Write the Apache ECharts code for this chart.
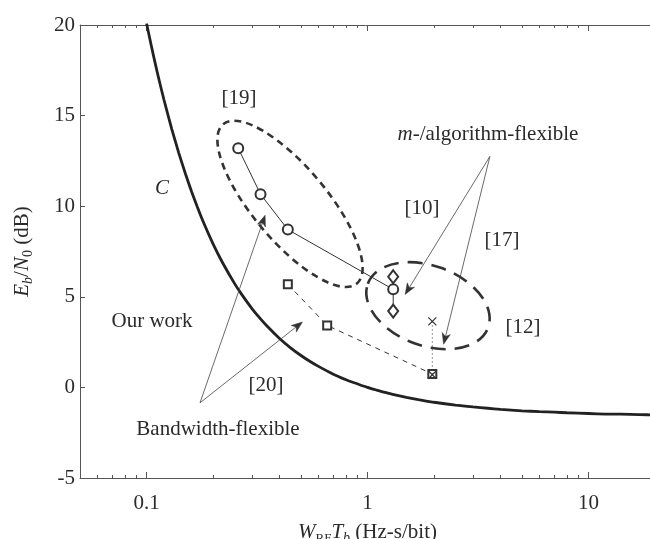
<!DOCTYPE html>
<html>
<head>
<meta charset="utf-8">
<script src="https://cdn.jsdelivr.net/npm/echarts@6/dist/echarts.min.js"></script>
<style>html,body{margin:0;padding:0;background:#fff;}#c{width:650px;height:539px;}</style>
</head>
<body>
<div id="c"></div>
<script>
// ---- data ----
const curveW    = [0.1, 0.105, 0.11, 0.115, 0.12, 0.13, 0.14, 0.15, 0.16, 0.17, 0.18, 0.2, 0.22, 0.25, 0.27, 0.3, 0.32, 0.35, 0.4, 0.45, 0.5, 0.55, 0.6, 0.7, 0.8, 0.85, 1, 1.1, 1.2, 1.3, 1.5, 1.7, 2, 2.5, 3, 3.5, 4, 5, 6, 7, 8, 10, 12, 14, 17, 20];
const curveEbN0 = [20.10, 18.88, 17.77, 16.77, 15.86, 14.27, 12.93, 11.79, 10.80, 9.94, 9.18, 7.92, 6.92, 5.74, 5.12, 4.35, 3.93, 3.40, 2.70, 2.17, 1.76, 1.43, 1.16, 0.73, 0.42, 0.30, 0.00, -0.15, -0.28, -0.38, -0.55, -0.68, -0.82, -0.98, -1.08, -1.15, -1.21, -1.29, -1.34, -1.37, -1.40, -1.44, -1.47, -1.48, -1.50, -1.52];

const ref19W = [0.26, 0.328, 0.436, 1.307];
const ref19E = [13.2, 10.66, 8.71, 5.41];
const ref10W = [1.307, 1.307];
const ref10E = [6.11, 4.21];
const ref20W = [0.436, 0.657, 1.965];
const ref20E = [5.69, 3.42, 0.74];
const ref17W = [1.965, 1.965];
const ref17E = [3.64, 0.70];

const xTickLabels = ['0.1', '1', '10'];
const yTickLabels = ['-5', '0', '5', '10', '15', '20'];
const xMinorTicks = [0.06, 0.07, 0.08, 0.09, 0.2, 0.3, 0.4, 0.5, 0.6, 0.7, 0.8, 0.9, 2, 3, 4, 5, 6, 7, 8, 9, 20];

// annotation anchors (data coordinates)
const ellipseCenterW = [0.446, 1.878];
const ellipseCenterE = [10.13, 4.51];
const arrowFromW = [3.58, 3.58, 0.1746, 0.1746];
const arrowFromE = [12.75, 12.75, -0.85, -0.85];
const arrowToW   = [1.48, 2.21, 0.344, 0.5075];
const arrowToE   = [5.13, 2.38, 9.5, 3.61];

// ---- styling ----
const FONT = 'Liberation Serif';
const TXT = '#2a2a2a';
const AX = '#555';
const zip = (a, b) => a.map((v, i) => [v, b[i]]);
const ellipseStyle = [
  {rx: 104, ry: 37, rot: 50, dash: [7, 5]},
  {rx: 64, ry: 40, rot: 20, dash: [15, 9]}
];

const chart = echarts.init(document.getElementById('c'), null, {renderer: 'canvas'});

const baseX = {type: 'log', logBase: 10, min: 0.05, max: 20, gridIndex: 0, splitLine: {show: false}};
const baseY = {type: 'value', min: -5, max: 20, interval: 5, gridIndex: 0, splitLine: {show: false}};
const richName = {
  i: {fontStyle: 'italic', fontFamily: FONT, fontSize: 21, color: TXT, lineHeight: 26, verticalAlign: 'middle'},
  n: {fontFamily: FONT, fontSize: 21, color: TXT, lineHeight: 26, verticalAlign: 'middle'},
  s: {fontFamily: FONT, fontSize: 13, color: TXT, lineHeight: 14, verticalAlign: 'bottom'},
  si: {fontFamily: FONT, fontStyle: 'italic', fontSize: 14, color: TXT, lineHeight: 14, verticalAlign: 'bottom'}
};

const option = {
  animation: false,
  backgroundColor: '#fff',
  grid: {left: 80, top: 25, width: 575, height: 453, containLabel: false, outerBoundsMode: 'none'},
  xAxis: [
    Object.assign({}, baseX, {
      position: 'bottom',
      axisLine: {show: true, onZero: false, lineStyle: {color: AX, width: 1}},
      axisTick: {show: true, inside: true, length: 6, lineStyle: {color: AX, width: 1}},
      axisLabel: {show: true, color: TXT, fontFamily: FONT, fontSize: 21, margin: 15,
        formatter: v => { const s = String(+Number(v).toPrecision(3)); return xTickLabels.indexOf(s) >= 0 ? s : ''; }},
      name: '{i|W}{s|RF}{i|T}{si|b}{n| (Hz-s/bit)}',
      nameLocation: 'middle', nameGap: 41,
      nameTextStyle: {color: TXT, fontFamily: FONT, fontSize: 21, rich: richName}
    }),
    Object.assign({}, baseX, {
      position: 'bottom',
      axisLine: {show: false, onZero: false},
      axisTick: {show: true, inside: true, length: 3, customValues: xMinorTicks, lineStyle: {color: AX, width: 1}},
      axisLabel: {show: false}
    }),
    Object.assign({}, baseX, {
      position: 'top',
      axisLine: {show: true, onZero: false, lineStyle: {color: AX, width: 1}},
      axisTick: {show: true, inside: true, length: 6, lineStyle: {color: AX, width: 1}},
      axisLabel: {show: false}
    }),
    Object.assign({}, baseX, {
      position: 'top',
      axisLine: {show: false, onZero: false},
      axisTick: {show: true, inside: true, length: 3, customValues: xMinorTicks, lineStyle: {color: AX, width: 1}},
      axisLabel: {show: false}
    })
  ],
  yAxis: [
    Object.assign({}, baseY, {
      position: 'left',
      axisLine: {show: true, onZero: false, lineStyle: {color: AX, width: 1}},
      axisTick: {show: true, inside: true, length: 5, lineStyle: {color: AX, width: 1}},
      axisLabel: {show: true, color: TXT, fontFamily: FONT, fontSize: 21, margin: 5,
        formatter: v => yTickLabels[Math.round((v + 5) / 5)]},
      name: '{i|E}{si|b}{n|/}{i|N}{s|0}{n| (dB)}',
      nameLocation: 'middle', nameGap: 45, nameRotate: 90,
      nameTextStyle: {color: TXT, fontFamily: FONT, fontSize: 21,
        rich: Object.assign({}, richName, {s: {fontFamily: FONT, fontSize: 14, color: TXT, lineHeight: 14, verticalAlign: 'bottom'}})}
    }),
    Object.assign({}, baseY, {
      position: 'right',
      axisLine: {show: true, onZero: false, lineStyle: {color: AX, width: 1}},
      axisTick: {show: true, inside: true, length: 5, lineStyle: {color: AX, width: 1}},
      axisLabel: {show: false}
    })
  ],
  series: [
    {
      name: 'C', type: 'line', xAxisIndex: 0, yAxisIndex: 0,
      data: zip(curveW, curveEbN0), showSymbol: false, smooth: 0.2,
      lineStyle: {color: '#222', width: 2.8}, clip: true, z: 3
    },
    {
      name: 'ellipses', type: 'custom', xAxisIndex: 0, yAxisIndex: 0, z: 2,
      data: zip(ellipseCenterW, ellipseCenterE),
      renderItem: (params, api) => {
        const p = api.coord([api.value(0), api.value(1)]);
        const st = ellipseStyle[params.dataIndex];
        return {
          type: 'ellipse', x: p[0], y: p[1], rotation: -st.rot * Math.PI / 180,
          shape: {cx: 0, cy: 0, rx: st.rx, ry: st.ry},
          style: {fill: 'none', stroke: '#333', lineWidth: 2.6, lineDash: st.dash}
        };
      }
    },
    {
      name: 'arrows', type: 'custom', xAxisIndex: 0, yAxisIndex: 0, z: 4,
      encode: {x: [0, 2], y: [1, 3]},
      data: arrowFromW.map((w, i) => [w, arrowFromE[i], arrowToW[i], arrowToE[i]]),
      renderItem: (params, api) => {
        const a = api.coord([api.value(0), api.value(1)]);
        const b = api.coord([api.value(2), api.value(3)]);
        const dx = b[0] - a[0], dy = b[1] - a[1];
        const L = Math.sqrt(dx * dx + dy * dy);
        const ux = dx / L, uy = dy / L, nx = -uy, ny = ux;
        const hl = 11, hw = 4.2, notch = 3;
        const back = [b[0] - ux * hl, b[1] - uy * hl];
        return {
          type: 'group',
          children: [
            {type: 'line', shape: {x1: a[0], y1: a[1], x2: b[0] - ux * 4, y2: b[1] - uy * 4},
             style: {stroke: '#444', lineWidth: 0.8}},
            {type: 'polygon', shape: {points: [
              [b[0], b[1]],
              [back[0] + nx * hw, back[1] + ny * hw],
              [b[0] - ux * (hl - notch), b[1] - uy * (hl - notch)],
              [back[0] - nx * hw, back[1] - ny * hw]
            ]}, style: {fill: '#333', stroke: '#333', lineWidth: 0.5}}
          ]
        };
      }
    },
    {
      name: '[19]', type: 'line', xAxisIndex: 0, yAxisIndex: 0, z: 5,
      data: zip(ref19W, ref19E), symbol: 'emptyCircle', symbolSize: 10,
      lineStyle: {color: '#333', width: 1},
      itemStyle: {color: '#333', borderWidth: 1}
    },
    {
      name: '[10]', type: 'line', xAxisIndex: 0, yAxisIndex: 0, z: 5,
      data: zip(ref10W, ref10E), symbol: 'emptyDiamond', symbolSize: [10, 13],
      lineStyle: {color: '#333', width: 1},
      itemStyle: {color: '#333', borderWidth: 1}
    },
    {
      name: '[20]', type: 'line', xAxisIndex: 0, yAxisIndex: 0, z: 5,
      data: zip(ref20W, ref20E), symbol: 'emptyRect', symbolSize: 8,
      lineStyle: {color: '#333', width: 1, type: [5, 5]},
      itemStyle: {color: '#333', borderWidth: 1}
    },
    {
      name: '[17]', type: 'line', xAxisIndex: 0, yAxisIndex: 0, z: 6,
      data: zip(ref17W, ref17E), symbol: 'path://M0,0L10,10M10,0L0,10', symbolSize: 8,
      lineStyle: {color: '#333', width: 1, type: [1, 3]},
      itemStyle: {color: 'none', borderColor: '#333', borderWidth: 1.2}
    }
  ],
  graphic: [
    {type: 'text', x: 239, y: 98, z: 10, style: {text: '[19]', font: '21px "Liberation Serif"', fill: TXT, align: 'center', verticalAlign: 'middle'}},
    {type: 'text', x: 162, y: 188, z: 10, style: {text: 'C', font: 'italic 21px "Liberation Serif"', fill: TXT, align: 'center', verticalAlign: 'middle'}},
    {type: 'text', x: 488, y: 134, z: 10, style: {text: '{i|m}-/algorithm-flexible', font: '21px "Liberation Serif"', fill: TXT, align: 'center', verticalAlign: 'middle',
      rich: {i: {fontStyle: 'italic', fontFamily: FONT, fontSize: 21, fill: TXT}}}},
    {type: 'text', x: 422, y: 208, z: 10, style: {text: '[10]', font: '21px "Liberation Serif"', fill: TXT, align: 'center', verticalAlign: 'middle'}},
    {type: 'text', x: 502, y: 240, z: 10, style: {text: '[17]', font: '21px "Liberation Serif"', fill: TXT, align: 'center', verticalAlign: 'middle'}},
    {type: 'text', x: 523, y: 327, z: 10, style: {text: '[12]', font: '21px "Liberation Serif"', fill: TXT, align: 'center', verticalAlign: 'middle'}},
    {type: 'text', x: 152, y: 321, z: 10, style: {text: 'Our work', font: '21px "Liberation Serif"', fill: TXT, align: 'center', verticalAlign: 'middle'}},
    {type: 'text', x: 266, y: 385, z: 10, style: {text: '[20]', font: '21px "Liberation Serif"', fill: TXT, align: 'center', verticalAlign: 'middle'}},
    {type: 'text', x: 218, y: 429, z: 10, style: {text: 'Bandwidth-flexible', font: '21px "Liberation Serif"', fill: TXT, align: 'center', verticalAlign: 'middle'}}
  ]
};
chart.setOption(option);
</script>
</body>
</html>
